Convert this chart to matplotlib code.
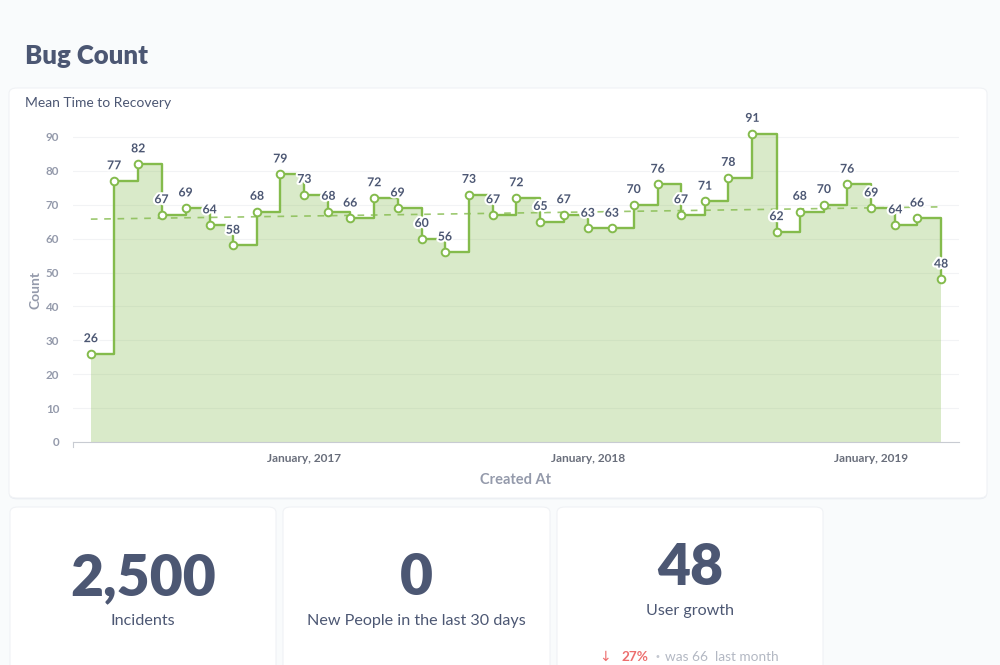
import matplotlib
matplotlib.use("Agg")
import matplotlib.pyplot as plt
import matplotlib.dates as mdates
import matplotlib.patheffects as pe
from matplotlib.patches import FancyBboxPatch
import numpy as np
import pandas as pd

plt.rcParams['font.family'] = ['Lato', 'DejaVu Sans']

# monthly values, April 2016 .. April 2019
months = pd.date_range("2016-04-01", periods=37, freq="MS")
counts = [26, 77, 82, 67, 69, 64, 58, 68, 79, 73, 68, 66, 72, 69, 60, 56, 73, 67,
          72, 65, 67, 63, 63, 70, 76, 67, 71, 78, 91, 62, 68, 70, 76, 69, 64, 66, 48]
yticks = [0, 10, 20, 30, 40, 50, 60, 70, 80, 90]
xtick_dates = pd.to_datetime(["2017-01-01", "2018-01-01", "2019-01-01"])

stat_values = ["2,500", "0", "48"]
stat_labels = ["Incidents", "New People in the last 30 days", "User growth"]

GREEN = "#84bb4c"
DARK = "#4c5773"
GREY = "#949aab"
BG = "#f9fbfc"

W, H = 1000, 665
fig = plt.figure(figsize=(10, 6.65), dpi=100)
fig.patch.set_facecolor(BG)


def px(x, y):
    return x / W, 1 - y / H


def card(x0, y0, x1, y1):
    fx0, fy1 = px(x0, y0)
    fx1, fy0 = px(x1, y1)
    shadow = FancyBboxPatch((fx0, fy0 - 0.002), fx1 - fx0, fy1 - fy0,
                            boxstyle="round,pad=0,rounding_size=0.008",
                            transform=fig.transFigure, facecolor="#e9edf2",
                            edgecolor="none", zorder=-2)
    box = FancyBboxPatch((fx0, fy0), fx1 - fx0, fy1 - fy0,
                         boxstyle="round,pad=0,rounding_size=0.008",
                         transform=fig.transFigure, facecolor="white",
                         edgecolor="#f0f2f5", linewidth=0.8, zorder=-1)
    fig.patches.extend([shadow, box])


card(9, 88, 987, 498)
card(10, 507, 276, 680)
card(283, 507, 550, 680)
card(557, 507, 823, 680)

fig.text(*px(25, 56), "Bug Count", fontsize=18.5, fontweight="heavy",
         color=DARK, va="center", ha="left")
fig.text(*px(25, 103), "Mean Time to Recovery", fontsize=10, color=DARK,
         va="center", ha="left")

# main chart
l, b = px(73, 442)
r, t = px(959, 120)
ax = fig.add_axes([l, b, r - l, t - b])
ax.set_facecolor("none")

ax.fill_between(months, counts, 0, step="post", color=GREEN, alpha=0.3,
                linewidth=0, zorder=1)
ax.step(months, counts, where="post", color=GREEN, linewidth=1.7, zorder=3)
ax.plot(months, counts, linestyle="none", marker="o", markersize=5.5,
        markerfacecolor="white", markeredgecolor=GREEN, markeredgewidth=1.4,
        zorder=4)

# linear trend
xn = mdates.date2num(months)
slope, icpt = np.polyfit(xn, counts, 1)
ax.plot(months[[0, -1]], [icpt + slope * xn[0], icpt + slope * xn[-1]],
        linestyle=(0, (4, 4)), color=GREEN, alpha=0.8, linewidth=1.2, zorder=2)

for d, v in zip(months, counts):
    ax.annotate(str(v), (d, v), xytext=(0, 7), textcoords="offset points",
                ha="center", va="bottom", fontsize=8.8, fontweight="bold",
                color=DARK, zorder=5,
                path_effects=[pe.withStroke(linewidth=3, foreground="white")])

ax.set_ylim(0, 95)
ax.set_xlim(months[0] - pd.Timedelta(days=23), months[-1] + pd.Timedelta(days=23))
ax.set_yticks(yticks)
ax.set_xticks(xtick_dates)
ax.set_xticklabels(["January, 2017", "January, 2018", "January, 2019"])
ax.tick_params(axis="x", length=0, pad=8, labelsize=8.6, labelcolor="#696e7b")
ax.tick_params(axis="y", length=0, pad=10, labelsize=8.4, labelcolor=GREY)
for lab in ax.get_xticklabels() + ax.get_yticklabels():
    lab.set_fontweight("bold")
ax.grid(axis="y", color="#f2f3f5", linewidth=0.8)
ax.set_axisbelow(True)
for s in ["top", "right", "left"]:
    ax.spines[s].set_visible(False)
ax.spines["bottom"].set_color("#c8cbd2")
ax.spines["bottom"].set_linewidth(0.8)
ax.axvline(ax.get_xlim()[0], ymin=-0.015, ymax=0, color="#c8cbd2",
           linewidth=0.8, clip_on=False)

fig.text(*px(35, 290), "Count", rotation=90, fontsize=10, fontweight="bold",
         color=GREY, ha="center", va="center")
fig.text(*px(516, 480), "Created At", fontsize=10.5, fontweight="bold",
         color=GREY, ha="center", va="center")

# scalar cards
centers = [143, 416, 690]
value_y = [578, 578, 568]
label_y = [621, 621, 611]
for cx, vy, ly, val, lab in zip(centers, value_y, label_y, stat_values, stat_labels):
    fig.text(*px(cx, vy), val, fontsize=41, fontweight="heavy", color=DARK,
             ha="center", va="center")
    fig.text(*px(cx, ly), lab, fontsize=11.6, color=DARK, ha="center", va="center")

fig.text(*px(599, 657), "\u2193", fontsize=10, color="#ed6e6e", ha="left",
         va="center", family=["DejaVu Sans"])
fig.text(*px(621, 657), "27%", fontsize=9.8, fontweight="bold", color="#ed6e6e",
         ha="left", va="center")
fig.text(*px(654, 657), "\u2022", fontsize=7, color="#c3c7d0", ha="left",
         va="center", family=["DejaVu Sans"])
fig.text(*px(665, 657), "was 66  last month", fontsize=9.8, color="#b3b8c3",
         ha="left", va="center")

fig.savefig("out.png", dpi=100, facecolor=BG)
